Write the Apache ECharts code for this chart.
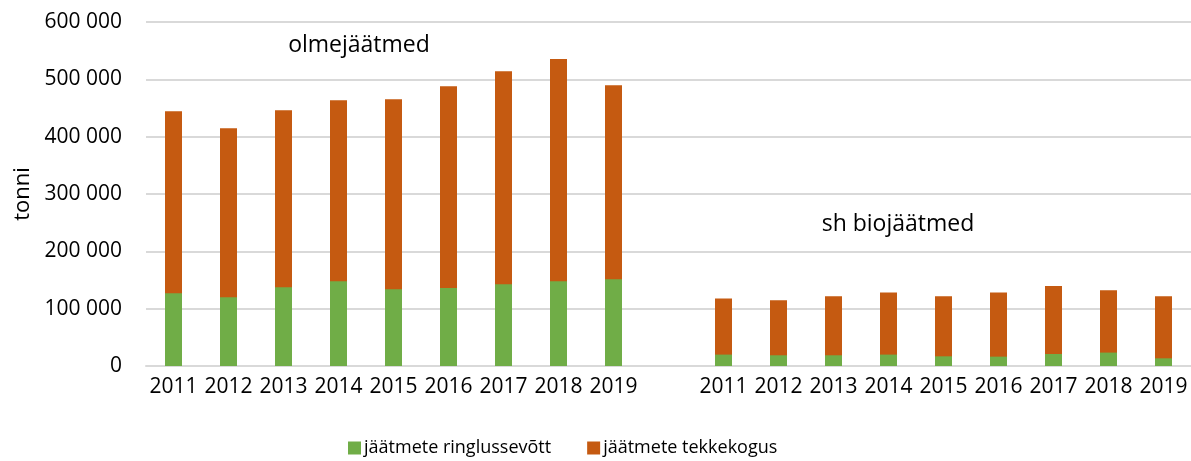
<!DOCTYPE html>
<html>
<head>
<meta charset="utf-8" />
<title>olmejäätmed</title>
<script src="https://cdn.jsdelivr.net/npm/echarts@6/dist/echarts.min.js"></script>
<style>
    body { margin: 0; background: #fff; }
</style>
</head>
<body>
<div id="main" style="width: 1191px;height: 461px;"></div>
<script type="text/javascript">
var myChart = echarts.init(document.getElementById('main'));

// aastad mõlemas grupis
let years = ['2011', '2012', '2013', '2014', '2015', '2016', '2017', '2018', '2019'];
// olmejäätmed, tonni
let olmeTekke = [444500, 414800, 446200, 463700, 465400, 488100, 514300, 535300, 489800];
let olmeRinglus = [126900, 119900, 137300, 147800, 133900, 136200, 142600, 147800, 151300];
// sh biojäätmed, tonni
let bioTekke = [117600, 114700, 121600, 128100, 121600, 128100, 139600, 132100, 121600];
let bioRinglus = [19900, 18700, 18700, 19900, 16900, 16300, 20900, 23400, 13400];
let yTicks = [0, 100000, 200000, 300000, 400000, 500000, 600000];

// kaks gruppi, vahel üks tühi koht
let categories = years.concat(['']).concat(years);
let tekkeData = olmeTekke.concat([null]).concat(bioTekke);
let ringlusData = olmeRinglus.concat([null]).concat(bioRinglus);

let font = 'Open Sans';

option = {
    animation: false,
    textStyle: { fontFamily: font },
    title: [{
        text: 'olmejäätmed',
        left: 354,
        top: 29,
        textAlign: 'center',
        textStyle: { color: '#000', fontSize: 23, fontWeight: 'normal', fontFamily: font }
    }, {
        text: 'sh biojäätmed',
        left: 893,
        top: 208,
        textAlign: 'center',
        textStyle: { color: '#000', fontSize: 23, fontWeight: 'normal', fontFamily: font }
    }],
    legend: {
        top: 434,
        left: 343,
        itemWidth: 13,
        itemHeight: 13,
        itemGap: 36,
        icon: 'rect',
        textStyle: { color: '#000', fontSize: 18, fontFamily: font, padding: [0, 0, 0, -2] },
        data: ['jäätmete ringlussevõtt', 'jäätmete tekkekogus']
    },
    grid: {
        left: 146,
        right: 0,
        top: 22,
        bottom: 95
    },
    xAxis: {
        type: 'category',
        data: categories,
        axisLine: { lineStyle: { color: '#d9d9d9', width: 2 } },
        axisTick: { show: false },
        axisLabel: { color: '#000', fontSize: 21, margin: 11, interval: 0, fontFamily: font }
    },
    yAxis: {
        type: 'value',
        min: yTicks[0],
        max: yTicks[yTicks.length - 1],
        interval: 100000,
        name: 'tonni',
        nameLocation: 'middle',
        nameGap: 110,
        nameTextStyle: { color: '#000', fontSize: 22, fontFamily: font },
        axisLine: { show: false },
        axisTick: { show: false },
        splitLine: { lineStyle: { color: '#d9d9d9', width: 2 } },
        axisLabel: {
            color: '#000',
            fontSize: 21,
            margin: 24,
            fontFamily: font,
            formatter: function (v) {
                return String(v).replace(/\B(?=(\d{3})+(?!\d))/g, ' ');
            }
        }
    },
    series: [{
        name: 'jäätmete tekkekogus',
        type: 'bar',
        barWidth: 17,
        barGap: '-100%',
        itemStyle: { color: '#c55a11' },
        data: tekkeData
    }, {
        name: 'jäätmete ringlussevõtt',
        type: 'bar',
        barWidth: 17,
        barGap: '-100%',
        itemStyle: { color: '#70ad47' },
        data: ringlusData
    }]
};
myChart.setOption(option);
</script>
</body>
</html>
